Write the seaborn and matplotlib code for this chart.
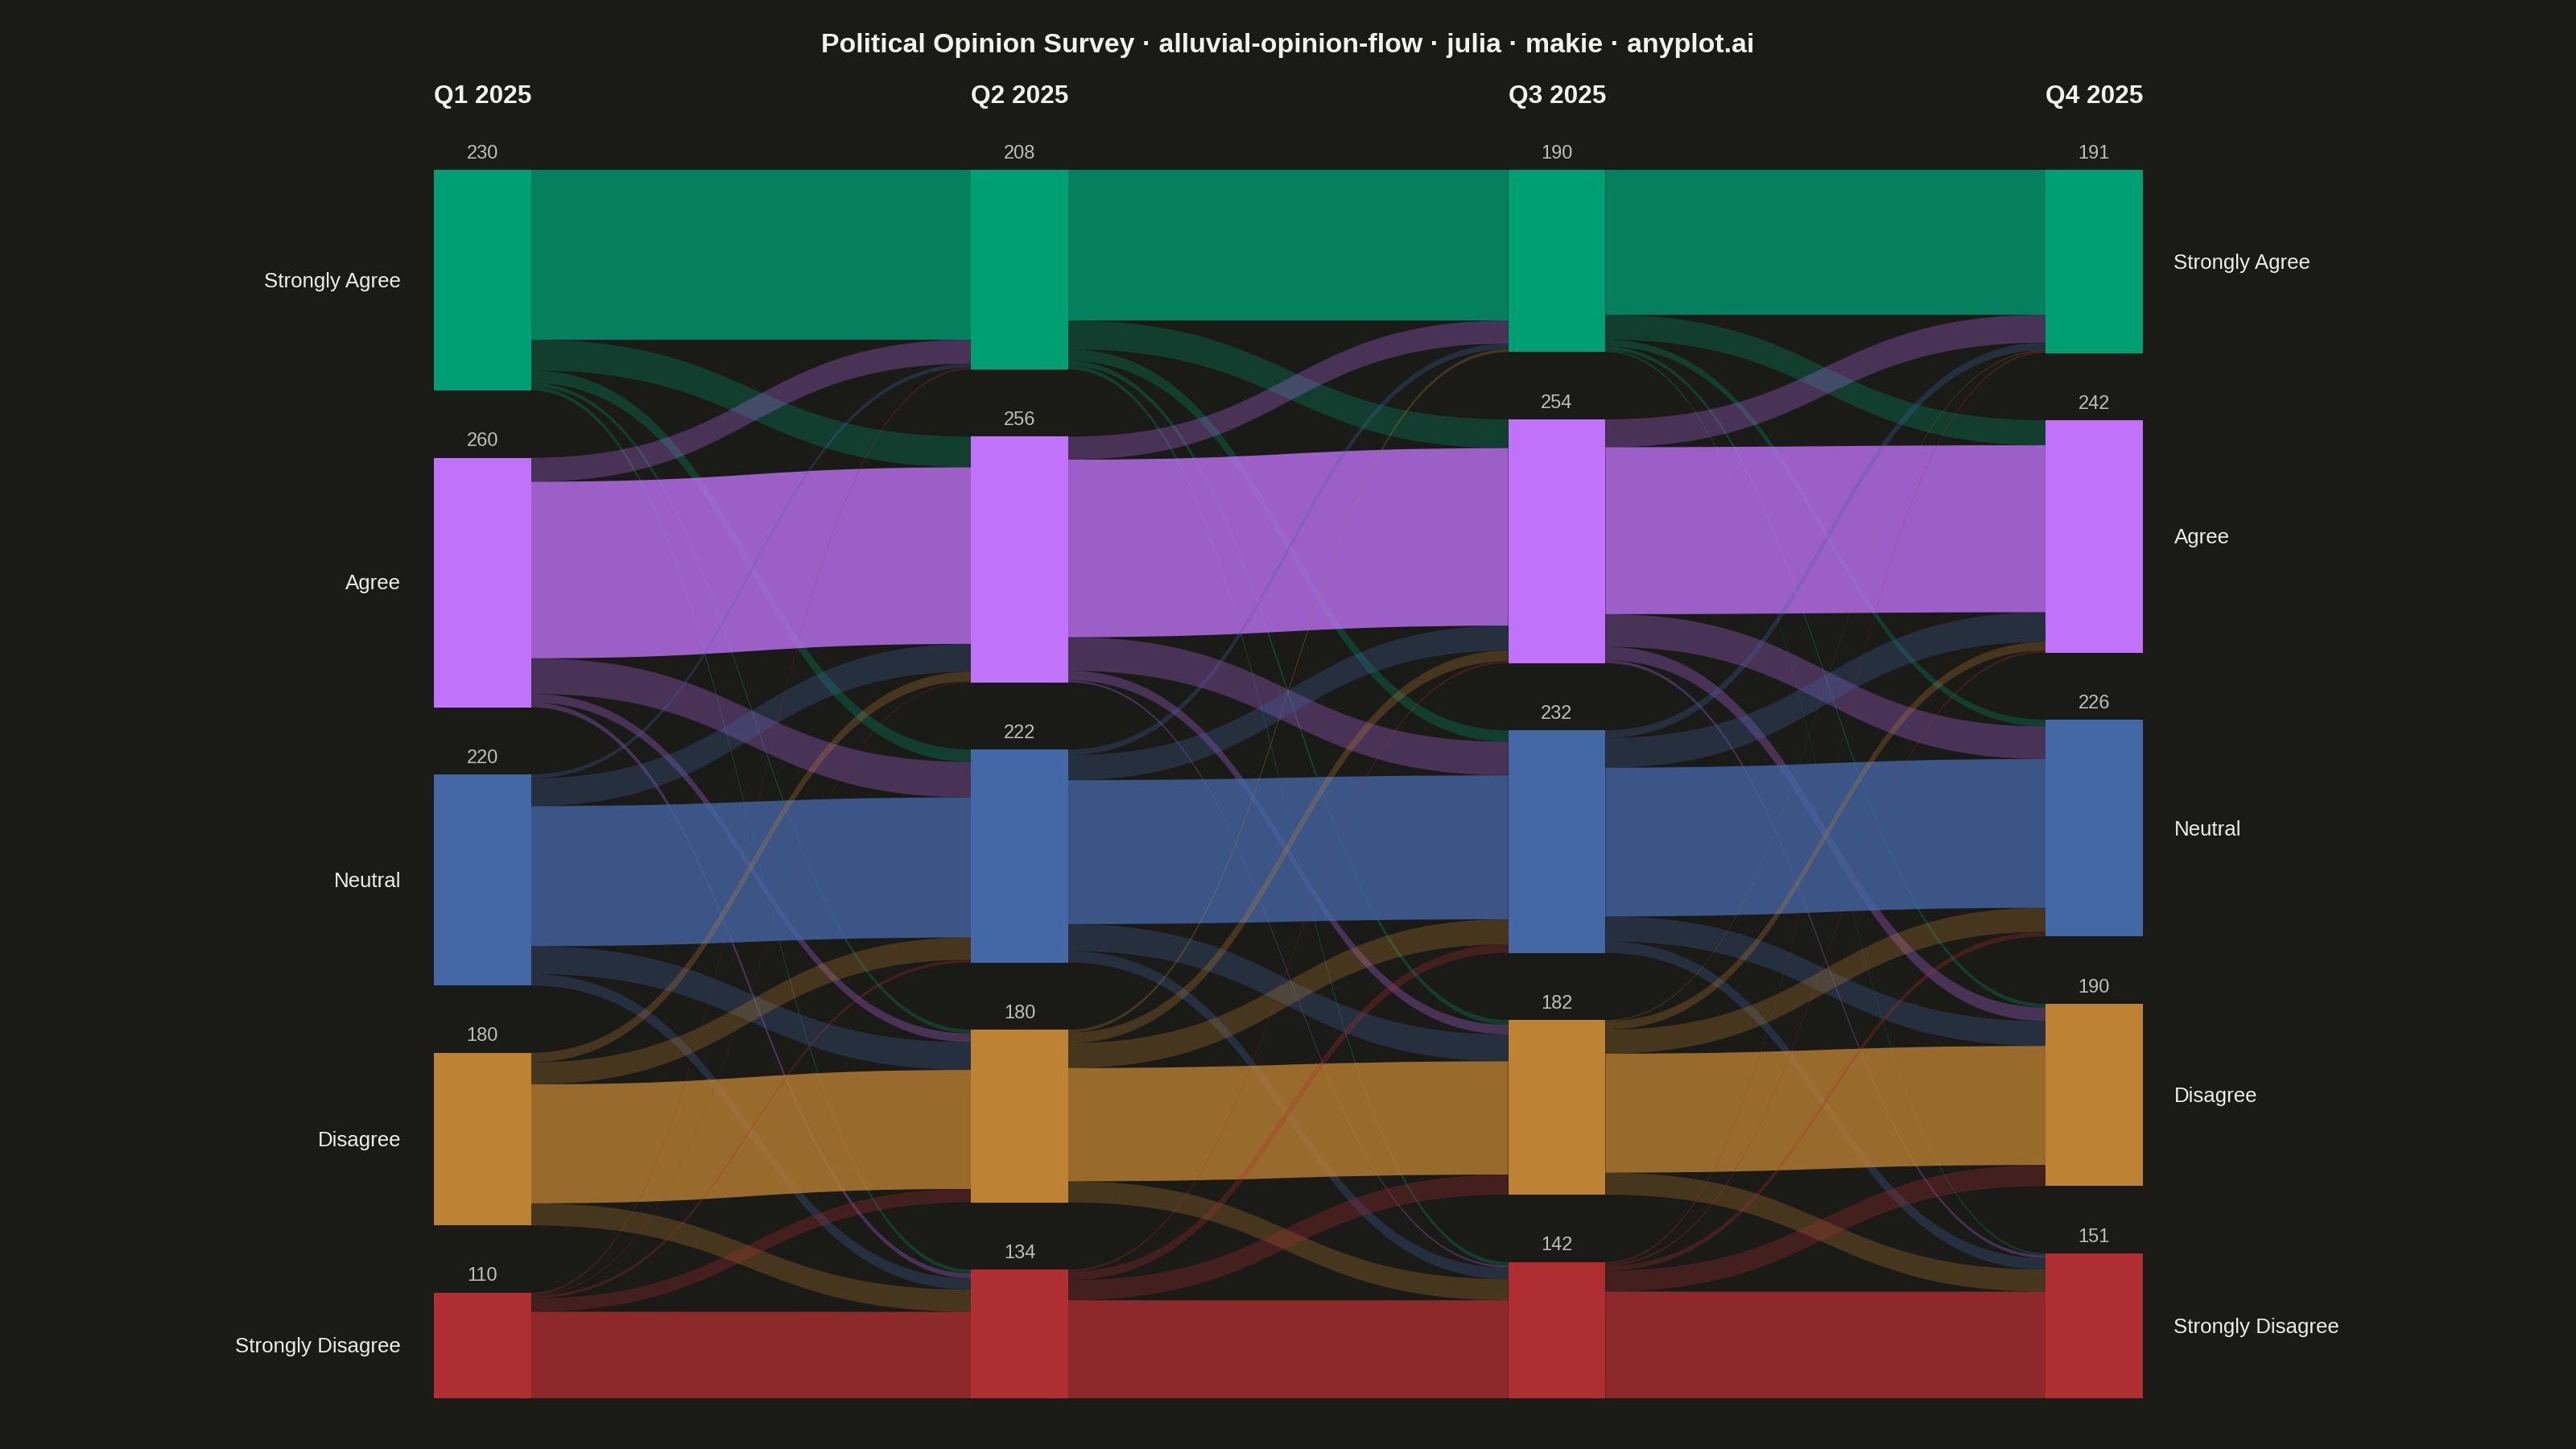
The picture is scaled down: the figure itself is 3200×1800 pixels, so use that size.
import numpy as np
import matplotlib
matplotlib.use("Agg")
import matplotlib.pyplot as plt
import seaborn as sns
from matplotlib.path import Path
from matplotlib.patches import PathPatch

# --- data ---------------------------------------------------------------
quarters = ["Q1 2025", "Q2 2025", "Q3 2025", "Q4 2025"]
opinions = ["Strongly Agree", "Agree", "Neutral", "Disagree", "Strongly Disagree"]

# respondents moving between quarters (rows = from, columns = to)
q1_to_q2 = [
    [177, 32, 13, 4, 4],
    [25, 184, 37, 9, 5],
    [4, 29, 146, 29, 12],
    [0, 10, 23, 124, 23],
    [2, 1, 3, 14, 90],
]
q2_to_q3 = [
    [157, 30, 12, 5, 4],
    [24, 185, 35, 10, 2],
    [6, 26, 150, 28, 12],
    [3, 11, 26, 118, 22],
    [0, 2, 9, 21, 102],
]
q3_to_q4 = [
    [151, 26, 7, 4, 2],
    [29, 174, 34, 14, 3],
    [8, 31, 155, 26, 12],
    [1, 9, 25, 124, 23],
    [2, 2, 5, 22, 111],
]

colors = ["#009E73", "#C073FA", "#4467A6", "#BD8233", "#AE2E31"]
bg = "#1A1A17"

# --- style --------------------------------------------------------------
sns.set_theme(style="dark", rc={"figure.facecolor": bg, "axes.facecolor": bg})
plt.rcParams["font.family"] = ["Liberation Sans", "DejaVu Sans"]

flows = [np.array(m) for m in (q1_to_q2, q2_to_q3, q3_to_q4)]
totals = [f.sum(axis=1) for f in flows] + [flows[-1].sum(axis=0)]

gap = 70          # vertical gap between nodes (respondents)
node_w = 0.181    # node width in column units

# node top positions per column
tops = []
for t in totals:
    tops.append(np.concatenate([[0], np.cumsum(t[:-1] + gap)]))

fig = plt.figure(figsize=(16, 9), dpi=200)
ax = fig.add_axes([0, 0, 1, 1])
ax.set_xlim(-0.898, 3.897)
ax.set_ylim(1333, -177)
ax.axis("off")

# flows
for i, f in enumerate(flows):
    out_off = tops[i].astype(float).copy()
    in_off = tops[i + 1].astype(float).copy()
    xs = i + node_w / 2
    xt = i + 1 - node_w / 2
    xm = (xs + xt) / 2
    for s in range(5):
        for t in range(5):
            v = f[s, t]
            if v <= 0:
                continue
            s0, t0 = out_off[s], in_off[t]
            verts = [
                (xs, s0), (xm, s0), (xm, t0), (xt, t0),
                (xt, t0 + v),
                (xm, t0 + v), (xm, s0 + v), (xs, s0 + v),
                (xs, s0),
            ]
            codes = [Path.MOVETO, Path.CURVE4, Path.CURVE4, Path.CURVE4,
                     Path.LINETO,
                     Path.CURVE4, Path.CURVE4, Path.CURVE4,
                     Path.CLOSEPOLY]
            alpha = 0.78 if s == t else 0.28
            ax.add_patch(PathPatch(Path(verts, codes), facecolor=colors[s],
                                   edgecolor="none", alpha=alpha, zorder=1))
            out_off[s] += v
            in_off[t] += v

# nodes
for i, t in enumerate(totals):
    ax.bar([i] * 5, t, bottom=tops[i], width=node_w, color=colors,
           linewidth=0, zorder=3)
    for k in range(5):
        ax.text(i, tops[i][k] - 12, str(t[k]), ha="center", va="baseline",
                fontsize=8.5, color="#BDBDBD", zorder=4)
    ax.text(i - node_w / 2, -76, quarters[i], ha="left", va="center",
            fontsize=11.4, fontweight="bold", color="#F2F2F2")

# category labels
for k in range(5):
    ax.text(-node_w / 2 - 0.061, tops[0][k] + totals[0][k] / 2 + 1.5, opinions[k],
            ha="right", va="center", fontsize=9.3, color="#EDEDED")
    ax.text(3 + node_w / 2 + 0.058, tops[3][k] + totals[3][k] / 2 + 1.5, opinions[k],
            ha="left", va="center", fontsize=9.3, color="#EDEDED")

fig.text(0.5, 1 - 57 / 1800,
         "Political Opinion Survey · alluvial-opinion-flow · julia · makie · anyplot.ai",
         ha="center", va="center", fontsize=12.2, fontweight="bold", color="#F2F2F2")

fig.savefig("out.png", dpi=200, facecolor=bg)
